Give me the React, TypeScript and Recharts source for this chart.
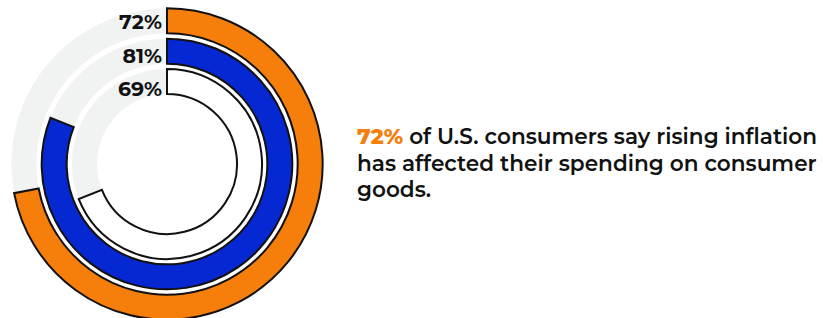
import { PolarAngleAxis, RadialBar, RadialBarChart, LabelList } from "recharts";

// inner ring first
const ringLabels = ["69%", "81%", "72%"];
const ringValues = [69, 81, 72];
const ringColors = ["#ffffff", "#0628d2", "#f67e0a"];

const headlineValue = "72%";
const headlineText = [
  "of U.S. consumers say rising inflation",
  "has affected their spending on consumer",
  "goods.",
];

const data = ringLabels.map((label, i) => ({
  label,
  value: ringValues[i],
  fill: ringColors[i],
}));

const FONT = "Montserrat, 'Open Sans', 'DejaVu Sans', sans-serif";

function RingLabel(props: any) {
  const { viewBox, value, index } = props;
  if (!viewBox) return null;
  const { cx, cy, innerRadius, outerRadius } = viewBox;
  const r = (innerRadius + outerRadius) / 2;
  // labels sit a little lower the further in the ring is
  const nudge = (ringLabels.length - 1 - index) * 3.4 + 0.5;
  return (
    <text
      x={cx - 5}
      y={cy - r + nudge}
      textAnchor="end"
      dominantBaseline="central"
      fontFamily={FONT}
      fontWeight={700}
      fontSize={20.5}
      fill="#111"
    >
      {value}
    </text>
  );
}

export default function App() {
  return (
    <div
      style={{
        position: "absolute",
        left: 0,
        top: 0,
        width: 823,
        height: 318,
        overflow: "hidden",
        background: "#fff",
      }}
    >
      <RadialBarChart
        width={340}
        height={318}
        cx={167}
        cy={164}
        innerRadius={67}
        outerRadius={158}
        barSize={25}
        startAngle={90}
        endAngle={-270}
        data={data}
        margin={{ top: 0, right: 0, bottom: 0, left: 0 }}
      >
        <PolarAngleAxis type="number" domain={[0, 100]} tick={false} axisLine={false} />
        <RadialBar
          dataKey="value"
          background={{ fill: "#f1f2f2" }}
          stroke="#111"
          strokeWidth={2}
          isAnimationActive={false}
        >
          <LabelList dataKey="label" content={<RingLabel />} />
        </RadialBar>
      </RadialBarChart>
      <div
        style={{
          position: "absolute",
          left: 357,
          top: 123,
          fontFamily: FONT,
          fontSize: 21.6,
          fontWeight: 600,
          lineHeight: "26.5px",
          color: "#111",
          whiteSpace: "nowrap",
        }}
      >
        <span style={{ color: "#f67e0a", fontWeight: 800 }}>{headlineValue}</span>{" "}
        {headlineText[0]}
        <br />
        {headlineText[1]}
        <br />
        {headlineText[2]}
      </div>
    </div>
  );
}
